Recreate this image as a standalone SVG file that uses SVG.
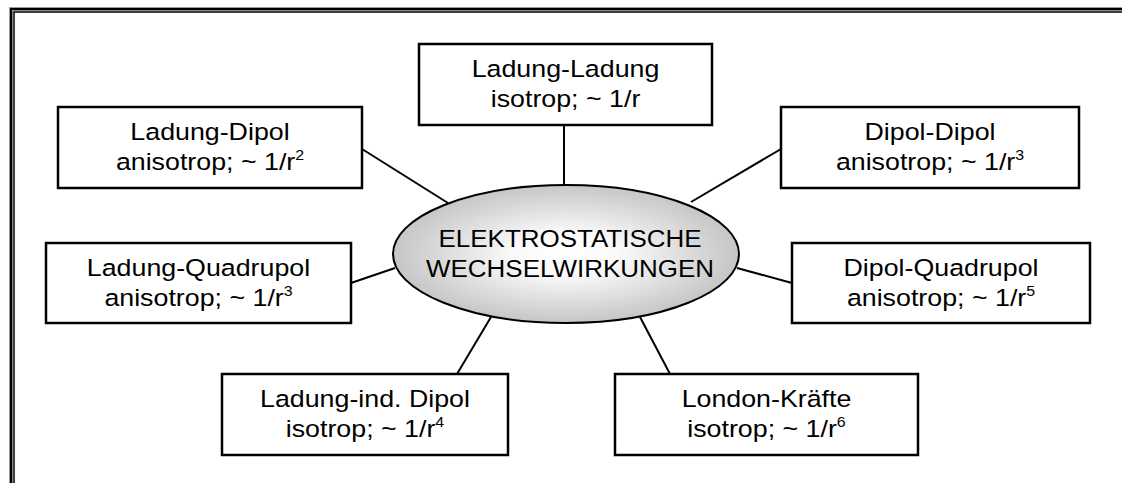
<svg xmlns="http://www.w3.org/2000/svg" width="1122" height="483" viewBox="0 0 1122 483">
  <style>
    .box { fill: #ffffff; stroke: #000000; stroke-width: 2.5; }
    .link { stroke: #000000; stroke-width: 2; fill: none; }
    .label { font-family: "Liberation Sans", Arial, sans-serif; font-size: 23.5px; fill: #000000; text-anchor: middle; }
    .sup { font-size: 14px; }
    .hub { font-family: "Liberation Sans", Arial, sans-serif; font-size: 24.5px; fill: #000000; text-anchor: middle; }
  </style>
  <defs>
    <radialGradient id="hubFill" cx="50%" cy="50%" r="50%">
      <stop offset="0" stop-color="#ffffff"/>
      <stop offset="0.3" stop-color="#fafafa"/>
      <stop offset="1" stop-color="#c6c6c6"/>
    </radialGradient>
  </defs>

  <rect x="0" y="0" width="1122" height="483" fill="#ffffff"/>

  <!-- double page frame (top and left edges) -->
  <g id="frame" fill="none">
    <path d="M9.5,483 V7.5 H1122" stroke="#9a9a9a" stroke-width="1"/>
    <path d="M11,483 V9 H1122" stroke="#000000" stroke-width="2"/>
    <path d="M12.5,483 V10.5 H1122" stroke="#8a8a8a" stroke-width="1"/>
    <path d="M14,483 V12 H1122" stroke="#000000" stroke-width="1.5"/>
  </g>

  <!-- spokes from the centre ellipse -->
  <g id="connectors" class="link">
    <line x1="564" y1="125" x2="564" y2="186"/>
    <line x1="362" y1="149" x2="448" y2="203"/>
    <line x1="781" y1="149" x2="691" y2="202"/>
    <line x1="351" y1="283" x2="395" y2="268"/>
    <line x1="737" y1="268" x2="792" y2="283"/>
    <line x1="457" y1="374" x2="491" y2="317"/>
    <line x1="640" y1="317" x2="670" y2="374"/>
  </g>

  <g id="hub">
    <ellipse cx="566" cy="254" rx="173" ry="69" fill="url(#hubFill)" stroke="#000000" stroke-width="2"/>
    <g transform="translate(570,0) scale(1.06,1)">
      <text class="hub" x="0" y="247">ELEKTROSTATISCHE</text>
      <text class="hub" x="0" y="277">WECHSELWIRKUNGEN</text>
    </g>
  </g>

  <g id="ladung-ladung">
    <rect class="box" x="419" y="44" width="293" height="81"/>
    <g transform="translate(565.5,0) scale(1.14,1)">
      <text class="label" x="0" y="77">Ladung-Ladung</text>
      <text class="label" x="0" y="107">isotrop; ~ 1/r</text>
    </g>
  </g>

  <g id="ladung-dipol">
    <rect class="box" x="58" y="107" width="304" height="81"/>
    <g transform="translate(210,0) scale(1.14,1)">
      <text class="label" x="0" y="140">Ladung-Dipol</text>
      <text class="label" x="0" y="170">anisotrop; ~ 1/r<tspan class="sup" dy="-10">2</tspan></text>
    </g>
  </g>

  <g id="dipol-dipol">
    <rect class="box" x="781" y="107" width="298" height="81"/>
    <g transform="translate(930,0) scale(1.14,1)">
      <text class="label" x="0" y="140">Dipol-Dipol</text>
      <text class="label" x="0" y="170">anisotrop; ~ 1/r<tspan class="sup" dy="-10">3</tspan></text>
    </g>
  </g>

  <g id="ladung-quadrupol">
    <rect class="box" x="46" y="243" width="305" height="80"/>
    <g transform="translate(198.5,0) scale(1.14,1)">
      <text class="label" x="0" y="276">Ladung-Quadrupol</text>
      <text class="label" x="0" y="306">anisotrop; ~ 1/r<tspan class="sup" dy="-10">3</tspan></text>
    </g>
  </g>

  <g id="dipol-quadrupol">
    <rect class="box" x="792" y="243" width="298" height="80"/>
    <g transform="translate(941,0) scale(1.14,1)">
      <text class="label" x="0" y="276">Dipol-Quadrupol</text>
      <text class="label" x="0" y="306">anisotrop; ~ 1/r<tspan class="sup" dy="-10">5</tspan></text>
    </g>
  </g>

  <g id="ladung-ind-dipol">
    <rect class="box" x="222" y="374" width="286" height="81"/>
    <g transform="translate(365,0) scale(1.14,1)">
      <text class="label" x="0" y="407">Ladung-ind. Dipol</text>
      <text class="label" x="0" y="437">isotrop; ~ 1/r<tspan class="sup" dy="-10">4</tspan></text>
    </g>
  </g>

  <g id="london-kraefte">
    <rect class="box" x="615" y="374" width="303" height="81"/>
    <g transform="translate(766.5,0) scale(1.14,1)">
      <text class="label" x="0" y="407">London-Kräfte</text>
      <text class="label" x="0" y="437">isotrop; ~ 1/r<tspan class="sup" dy="-10">6</tspan></text>
    </g>
  </g>
</svg>
